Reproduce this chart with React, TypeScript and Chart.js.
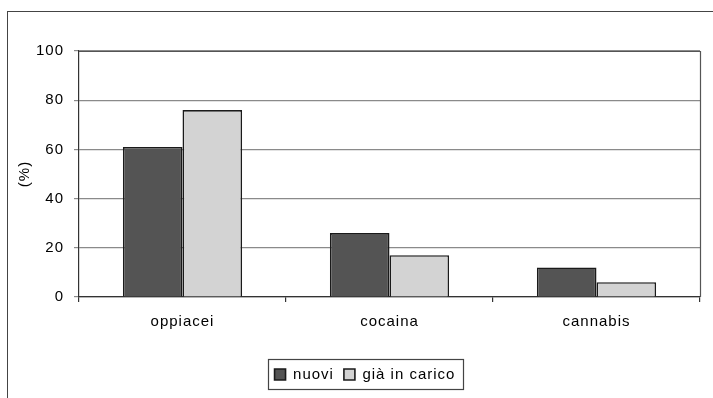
import React, { useEffect, useRef } from "react";
import { Chart, registerables } from "chart.js";

Chart.register(...registerables);

const categories = ["oppiacei", "cocaina", "cannabis"];
const nuovi = [61, 26, 12];
const giaInCarico = [76, 17, 6];
const yTicks = [0, 20, 40, 60, 80, 100];

const FONT = "'Liberation Sans', Arial, sans-serif";

const spacingPlugin = {
  id: "spacing",
  beforeLayout(chart: any) {
    chart.ctx.letterSpacing = "1px";
  },
  beforeDraw(chart: any) {
    chart.ctx.letterSpacing = "1px";
  },
  afterDraw(chart: any) {
    const ctx = chart.ctx;
    const a = chart.chartArea;
    ctx.save();
    ctx.strokeStyle = "#555";
    ctx.lineWidth = 1.2;
    ctx.beginPath();
    ctx.moveTo(a.left, a.top + 0.5);
    ctx.lineTo(a.right + 0.5, a.top + 0.5);
    ctx.lineTo(a.right + 0.5, a.bottom);
    ctx.stroke();
    const boxes = chart.legend && chart.legend.legendHitBoxes;
    if (boxes && boxes.length) {
      let l = Infinity, t = Infinity, r = -Infinity, b = -Infinity;
      boxes.forEach((h: any) => {
        l = Math.min(l, h.left);
        t = Math.min(t, h.top);
        r = Math.max(r, h.left + h.width);
        b = Math.max(b, h.top + h.height);
      });
      if (isFinite(l) && isFinite(t)) {
        ctx.strokeStyle = "#444";
        ctx.lineWidth = 1.2;
        ctx.strokeRect(Math.round(l - 7) + 0.5, Math.round(t - 8) + 0.5, Math.round(r - l + 14), Math.round(b - t + 15));
      }
    }
    ctx.restore();
  },
};

export default function App() {
  const ref = useRef<HTMLCanvasElement | null>(null);
  useEffect(() => {
    if (!ref.current) return;
    const chart = new Chart(ref.current, {
      type: "bar",
      data: {
        labels: categories,
        datasets: [
          {
            label: "nuovi",
            data: nuovi,
            backgroundColor: "#545454",
            borderColor: "#1a1a1a",
            borderWidth: 1.6,
            categoryPercentage: 0.576,
            barPercentage: 1,
          },
          {
            label: "già in carico",
            data: giaInCarico,
            backgroundColor: "#d3d3d3",
            borderColor: "#1a1a1a",
            borderWidth: 1.6,
            categoryPercentage: 0.576,
            barPercentage: 1,
          },
        ],
      },
      options: {
        animation: false,
        responsive: false,
        maintainAspectRatio: false,
        devicePixelRatio: 1,
        layout: { padding: { top: 51, left: 30, right: 13, bottom: 6 } },
        plugins: {
          tooltip: { enabled: false },
          legend: {
            position: "bottom",
            labels: {
              boxWidth: 11,
              boxHeight: 11,
              color: "#000",
              font: { family: FONT, size: 15 },
              padding: 10,
            },
          },
        },
        scales: {
          x: {
            offset: true,
            grid: { offset: true, drawOnChartArea: false, tickLength: 5, color: "#333", lineWidth: 1.2 },
            border: { color: "#333", width: 1.2 },
            ticks: { color: "#000", font: { family: FONT, size: 15 }, padding: 11 },
            afterFit(scale: any) {
              scale.height = 60;
            },
          },
          y: {
            min: 0,
            max: 100,
            afterBuildTicks(scale: any) {
              scale.ticks = yTicks.map((v) => ({ value: v }));
            },
            grid: { color: "#8a8a8a", lineWidth: 1.2, tickLength: 5 },
            border: { color: "#333", width: 1.2 },
            ticks: { color: "#000", font: { family: FONT, size: 15 }, padding: 10 },
            title: {
              display: true,
              text: "(%)",
              color: "#000",
              font: { family: FONT, size: 15 },
              padding: { top: -14, bottom: 0 },
            },
            afterFit(scale: any) {
              scale.width = 49;
            },
          },
        },
      },
      plugins: [spacingPlugin],
    });
    return () => chart.destroy();
  }, []);
  return (
    <div style={{ position: "fixed", left: 0, top: 0, width: 713, height: 398, background: "#fff", overflow: "hidden" }}>
      <div
        style={{
          position: "absolute",
          left: 7,
          top: 11,
          width: 720,
          height: 420,
          border: "1.5px solid #444",
          boxSizing: "border-box",
        }}
      />
      <canvas ref={ref} width={713} height={398} style={{ position: "absolute", left: 0, top: 0, width: 713, height: 398 }} />
    </div>
  );
}
